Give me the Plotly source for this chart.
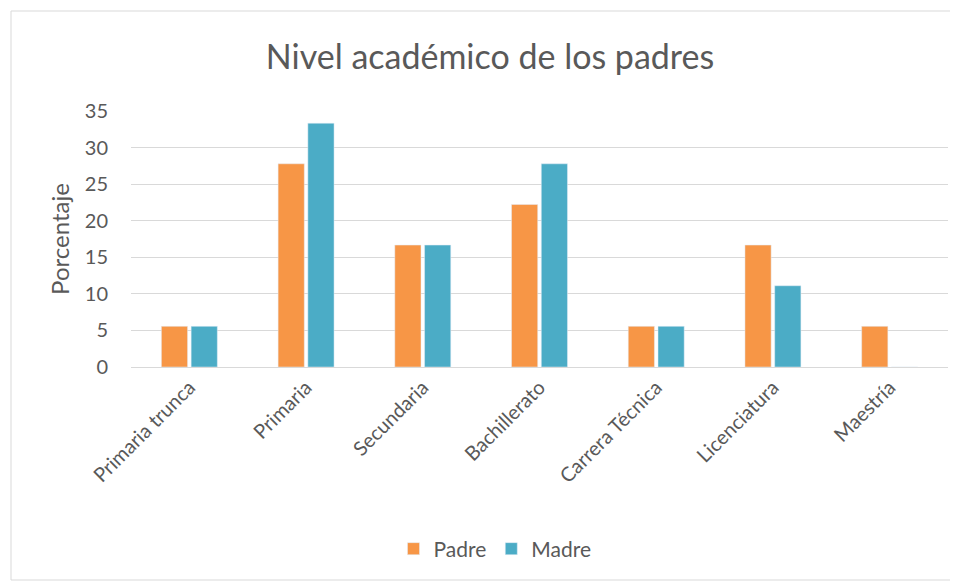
import plotly.graph_objects as go

categories = ["Primaria trunca", "Primaria", "Secundaria", "Bachillerato", "Carrera Técnica", "Licenciatura", "Maestría"]
padre = [5.56, 27.78, 16.67, 22.22, 5.56, 16.67, 5.56]
madre = [5.56, 33.33, 16.67, 27.78, 5.56, 11.11, 0]
y_ticks = [0, 5, 10, 15, 20, 25, 30, 35]

FONT = "Lato, Open Sans, sans-serif"
GREY = "#595959"
BORDER = "#D9D9D9"

fig = go.Figure()
fig.add_trace(go.Bar(name="Padre", x=categories, y=padre, marker=dict(color="#F79646")))
fig.add_trace(go.Bar(name="Madre", x=categories, y=madre, marker=dict(color="#4BACC6")))

OFF = 8  # browser body margin
W, H = 958 - OFF, 583 - OFF
L, R, T, B = 131 - OFF, 18 - OFF, 111 - OFF, 216
pw, ph = W - L - R, H - T - B

def px(x):
    return (x - OFF - L) / pw

def py(y):
    return (H - B - (y - OFF)) / ph

def border_line(x0, y0, x1, y1):
    return dict(type="line", xref="paper", yref="paper",
                x0=px(x0), x1=px(x1), y0=py(y0), y1=py(y1),
                line=dict(color=BORDER, width=1), layer="below")

fig.update_layout(
    width=W, height=H,
    margin=dict(l=L, r=R, t=T, b=B),
    paper_bgcolor="white", plot_bgcolor="white",
    barmode="group", bargap=0.49, bargroupgap=0.12,
    font=dict(family=FONT, color=GREY, size=20),
    title=dict(text="Nivel académico de los padres", x=px(490), xanchor="center",
               xref="paper", y=1 - (57 - OFF) / H, yanchor="middle",
               font=dict(size=34, color=GREY, family=FONT)),
    legend=dict(orientation="h", x=px(495), xanchor="center", y=py(549), yanchor="middle",
                font=dict(size=21, color=GREY), itemwidth=30),
    xaxis=dict(tickangle=-45, tickfont=dict(size=20, color=GREY), showline=True,
               linecolor=BORDER, linewidth=1, ticks=""),
    yaxis=dict(range=[0, 35], tickvals=y_ticks, gridcolor=BORDER, gridwidth=1,
               zeroline=False, showline=False, ticks="", ticklen=0,
               ticklabelstandoff=22,
               tickfont=dict(size=20, color=GREY),
               title=dict(text="Porcentaje", font=dict(size=24, color=GREY), standoff=8)),
    shapes=[
        border_line(11, 11, 970, 11),
        border_line(11, 11, 11, 580),
        border_line(11, 580, 970, 580),
    ],
)

fig.write_html("out.html")
